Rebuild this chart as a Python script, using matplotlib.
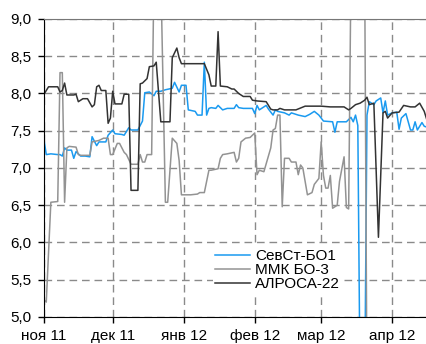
import matplotlib
matplotlib.use('Agg')
import matplotlib.pyplot as plt
import pandas as pd

plt.rcParams['font.family'] = ['Liberation Sans', 'DejaVu Sans']

start = pd.Timestamp('2011-11-01')

# days since 1 Nov 2011 and yields (%)
sevst_days = [0, 1, 3, 6, 7, 8, 9, 10, 12, 13, 14, 16, 18, 20, 21, 23, 24, 27, 28, 30,
              31, 34, 35, 37, 38, 41, 43, 44, 46, 48, 49, 51, 53, 56, 57, 59, 60, 62, 63, 66,
              67, 69, 70, 71, 72, 73, 75, 76, 78, 80, 83, 84, 85, 87, 91, 92, 93, 94, 97, 98,
              100, 101, 102, 105, 107, 108, 111, 114, 116, 118, 120, 122, 126, 127, 128, 132, 134, 135, 136, 137,
              138, 140, 141, 142, 144, 145, 147, 148, 149, 150, 152, 154, 155, 156, 158, 159, 160, 161, 162, 163,
              165, 166, 167]
sevst_vals = [7.38, 7.18, 7.19, 7.18, 7.18, 7.16, 7.27, 7.24, 7.24, 7.13, 7.22, 7.16, 7.16, 7.15, 7.42, 7.30, 7.35, 7.35, 7.44, 7.51,
              7.46, 7.45, 7.44, 7.54, 7.51, 7.51, 7.63, 8.01, 8.02, 7.97, 8.03, 8.03, 8.05, 8.07, 8.15, 8.02, 8.11, 8.11, 7.78, 7.76,
              7.71, 7.71, 8.42, 7.71, 7.80, 7.81, 7.80, 7.84, 7.78, 7.80, 7.80, 7.85, 7.81, 7.80, 7.80, 7.73, 7.84, 7.78, 7.84, 7.79,
              7.71, 7.78, 7.76, 7.74, 7.71, 7.74, 7.71, 7.69, 7.72, 7.76, 7.71, 7.63, 7.62, 7.48, 7.62, 7.62, 7.68, 7.62, 7.71, 7.57,
              4.0, 4.0, 7.71, 7.89, 7.85, 7.90, 7.94, 7.74, 7.90, 7.71, 7.74, 7.75, 7.52, 7.67, 7.73, 7.62, 7.51, 7.51, 7.62, 7.51,
              7.61, 7.56, 7.55]

mmk_days = [0, 1, 3, 6, 7, 8, 9, 10, 11, 14, 15, 16, 20, 21, 24, 26, 28, 29, 30, 32,
            33, 35, 36, 38, 41, 42, 43, 44, 45, 47, 48, 51, 53, 54, 56, 58, 59, 60, 64, 67,
            68, 70, 72, 73, 76, 77, 78, 80, 83, 84, 85, 86, 88, 90, 92, 93, 94, 96, 99, 100,
            101, 102, 103, 104, 105, 107, 108, 110, 111, 112, 113, 115, 117, 118, 120, 121, 122, 123, 124, 125,
            126, 128, 129, 131, 132, 133, 134, 140, 141]
mmk_vals = [5.23, 5.20, 6.54, 6.55, 8.28, 8.28, 6.54, 7.27, 7.29, 7.28, 7.18, 7.17, 7.17, 7.35, 7.37, 7.40, 7.40, 7.18, 7.18, 7.33,
            7.33, 7.21, 7.18, 7.05, 7.05, 7.18, 7.08, 7.08, 7.18, 7.18, 9.6, 9.6, 6.54, 6.54, 7.40, 7.33, 7.10, 6.64, 6.64, 6.65,
            6.67, 6.67, 6.97, 6.97, 6.99, 7.13, 7.18, 7.19, 7.21, 7.08, 7.13, 7.35, 7.40, 7.41, 7.47, 6.91, 6.97, 6.95, 7.27, 7.51,
            7.53, 7.71, 7.71, 6.48, 7.13, 7.13, 7.08, 7.08, 6.91, 7.04, 7.00, 6.64, 6.67, 6.78, 6.86, 7.35, 6.90, 6.73, 6.73, 6.90,
            6.46, 6.50, 6.82, 7.15, 6.47, 6.45, 9.6, 9.6, 4.0]

alrosa_days = [0, 2, 6, 7, 8, 9, 10, 13, 14, 15, 17, 19, 21, 22, 23, 24, 25, 27, 28, 29,
               30, 31, 34, 35, 37, 38, 41, 42, 43, 45, 46, 48, 49, 51, 55, 56, 58, 59, 60, 70,
               72, 73, 75, 76, 77, 80, 82, 83, 85, 86, 87, 90, 91, 93, 97, 99, 100, 102, 103, 105,
               110, 114, 121, 125, 131, 133, 134, 136, 138, 140, 141, 142, 144, 146, 148, 149, 150, 152, 155, 157,
               160, 162, 164, 166, 167]
alrosa_vals = [7.99, 8.09, 8.09, 8.02, 8.04, 8.14, 7.98, 7.98, 7.99, 7.89, 7.93, 7.93, 7.82, 7.85, 8.09, 8.11, 8.04, 8.04, 7.60, 7.67,
               8.03, 7.86, 7.86, 7.99, 7.99, 6.70, 6.70, 8.13, 8.14, 8.20, 8.36, 8.37, 8.42, 7.62, 7.62, 8.48, 8.61, 8.48, 8.40, 8.40,
               8.25, 8.10, 8.10, 8.83, 8.10, 8.09, 8.06, 8.06, 8.00, 7.98, 7.96, 7.96, 7.91, 7.90, 7.89, 7.79, 7.78, 7.78, 7.80, 7.78,
               7.78, 7.83, 7.83, 7.82, 7.82, 7.78, 7.80, 7.85, 7.87, 7.91, 7.95, 7.85, 7.87, 6.07, 7.74, 7.76, 7.67, 7.74, 7.75, 7.84,
               7.82, 7.82, 7.87, 7.76, 7.66]

tick_labels = ['ноя 11', 'дек 11', 'янв 12', 'фев 12', 'мар 12', 'апр 12']
tick_dates = pd.to_datetime(['2011-11-01', '2011-12-01', '2012-01-01', '2012-02-01', '2012-03-01', '2012-04-01'])
y_ticks = [5.0, 5.5, 6.0, 6.5, 7.0, 7.5, 8.0, 8.5, 9.0]


def to_dates(days):
    return start + pd.to_timedelta(days, unit='D')


fig = plt.figure(figsize=(4.27, 3.44), dpi=100)
ax = fig.add_axes([0.103, 0.0785, 0.897, 0.8663])

ax.plot(to_dates(sevst_days), sevst_vals, color='#1a9af0', lw=1.1, label='СевСт-БО1')
ax.plot(to_dates(mmk_days), mmk_vals, color='#939393', lw=1.1, label='ММК БО-3')
ax.plot(to_dates(alrosa_days), alrosa_vals, color='#333333', lw=1.1, label='АЛРОСА-22')

ax.set_ylim(5, 9)
ax.set_xlim(start, start + pd.Timedelta(days=167.2))
ax.set_yticks(y_ticks, labels=[f'{v:.1f}'.replace('.', ',') for v in y_ticks])
ax.set_xticks(tick_dates, labels=tick_labels)
ax.tick_params(axis='both', labelsize=11, length=4, width=1, direction='out', color='black')
ax.tick_params(axis='x', pad=5)
ax.tick_params(axis='y', pad=5)

ax.grid(True, color='#8a8a8a', lw=1.0, linestyle=(0, (5.5, 3.5)))
ax.set_axisbelow(True)

ax.spines['right'].set_visible(False)
ax.spines['top'].set_color('#777777')
ax.spines['left'].set_color('black')
ax.spines['bottom'].set_color('black')

leg = ax.legend(loc='lower left', bbox_to_anchor=(0.44, 0.08), frameon=True, fontsize=11,
                borderaxespad=0, borderpad=0.15, handlelength=2.3, handletextpad=0.35,
                labelspacing=0.0, fancybox=False)
leg.get_frame().set_edgecolor('none')
leg.get_frame().set_facecolor('white')
leg.get_frame().set_alpha(1)

plt.savefig('out.png', dpi=100)
